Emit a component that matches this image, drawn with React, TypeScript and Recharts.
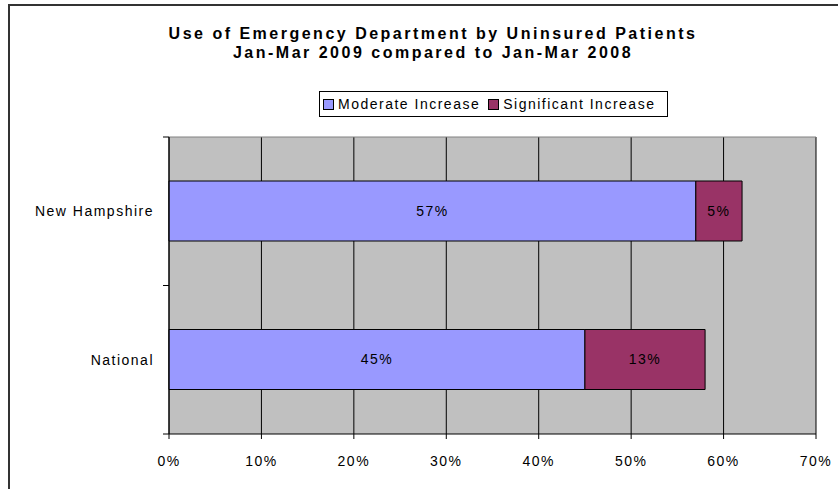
import { BarChart, Bar, XAxis, YAxis, CartesianGrid, LabelList } from "recharts";

const regions = ["New Hampshire", "National"];
const moderate = [57, 45];
const significant = [5, 13];
const xTicks = [0, 10, 20, 30, 40, 50, 60, 70];

const data = regions.map((region, i) => ({
  region,
  moderate: moderate[i],
  significant: significant[i],
}));

const FONT = "'Liberation Sans', Arial, sans-serif";
const PLOT_TOP = 137;
const PLOT_BOTTOM = 434;
const halfBand = (PLOT_BOTTOM - PLOT_TOP) / regions.length / 2;

const CategoryTick = (props: any) => {
  const { x, y, payload } = props;
  return (
    <g>
      <line x1={x - 6} x2={x} y1={y - halfBand} y2={y - halfBand} stroke="#000" />
      <line x1={x - 6} x2={x} y1={y + halfBand} y2={y + halfBand} stroke="#000" />
      <text x={x - 15} y={y} dy="0.35em" textAnchor="end" fontSize={14} letterSpacing={1.5} fill="#000" fontFamily={FONT}>
        {payload.value}
      </text>
    </g>
  );
};

const legendItems = [
  { label: "Moderate Increase", color: "#9999FF" },
  { label: "Significant Increase", color: "#993366" },
];

export default function App() {
  return (
    <div style={{ position: "absolute", left: 0, top: 0, width: 838, height: 489, overflow: "hidden", background: "#fff" }}>
      <div
        style={{
          position: "absolute",
          left: 8,
          top: 4,
          width: 860,
          height: 520,
          borderLeft: "2px solid #333",
          borderTop: "2px solid #333",
        }}
      />
      <div
        style={{
          position: "absolute",
          left: 0,
          top: 24,
          width: 866,
          textAlign: "center",
          fontFamily: FONT,
          fontWeight: "bold",
          fontSize: 16,
          letterSpacing: 2.5,
          lineHeight: "19px",
          color: "#000",
        }}
      >
        Use of Emergency Department by Uninsured Patients
        <br />
        Jan-Mar 2009 compared to Jan-Mar 2008
      </div>
      <div style={{ position: "absolute", left: 0, top: 0 }}>
        <BarChart
          width={838}
          height={489}
          data={data}
          layout="vertical"
          margin={{ top: PLOT_TOP, right: 22, bottom: 0, left: 0 }}
        >
          <CartesianGrid fill="#C0C0C0" stroke="#000" horizontal={false} />
          <CartesianGrid stroke="#808080" vertical={false} horizontalPoints={[PLOT_TOP]} />
          <XAxis
            type="number"
            domain={[0, 70]}
            ticks={xTicks}
            tickFormatter={(v) => `${v}%`}
            axisLine={{ stroke: "#000" }}
            tickLine={{ stroke: "#000" }}
            tickSize={5}
            tickMargin={17}
            height={489 - PLOT_BOTTOM}
            tick={{ fontSize: 14, fill: "#000", fontFamily: FONT, letterSpacing: 1.5 }}
            interval={0}
          />
          <YAxis
            type="category"
            dataKey="region"
            width={169}
            axisLine={{ stroke: "#000" }}
            tickLine={false}
            tickSize={0}
            tickMargin={0}
            tick={<CategoryTick />}
          />
          <Bar dataKey="moderate" stackId="a" fill="#9999FF" stroke="#000" strokeWidth={1} barSize={60} isAnimationActive={false}>
            <LabelList dataKey="moderate" position="center" formatter={(v: any) => `${v}%`} fill="#000" fontSize={14} letterSpacing={1.5} fontFamily={FONT} />
          </Bar>
          <Bar dataKey="significant" stackId="a" fill="#993366" stroke="#000" strokeWidth={1} barSize={60} isAnimationActive={false}>
            <LabelList dataKey="significant" position="center" formatter={(v: any) => `${v}%`} fill="#000" fontSize={14} letterSpacing={1.5} fontFamily={FONT} />
          </Bar>
        </BarChart>
      </div>
      <div
        style={{
          position: "absolute",
          left: 319,
          top: 91,
          width: 349,
          height: 26,
          border: "1px solid #000",
          background: "#fff",
          boxSizing: "border-box",
          display: "flex",
          alignItems: "center",
          paddingLeft: 3,
          fontFamily: FONT,
          fontSize: 14,
          letterSpacing: 1.5,
          whiteSpace: "nowrap",
          color: "#000",
        }}
      >
        {legendItems.map((it) => (
          <div key={it.label} style={{ display: "flex", alignItems: "center", marginRight: 8, flexShrink: 0 }}>
            <span
              style={{
                display: "inline-block",
                width: 9,
                height: 9,
                background: it.color,
                border: "1px solid #000",
                marginRight: 4,
                flexShrink: 0,
              }}
            />
            <span>{it.label}</span>
          </div>
        ))}
      </div>
    </div>
  );
}
